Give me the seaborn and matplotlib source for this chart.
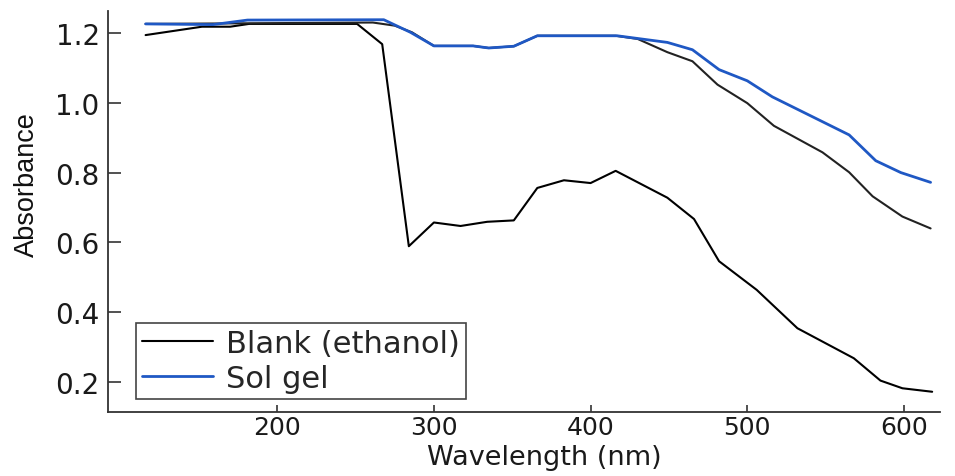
import matplotlib
matplotlib.use("Agg")
import matplotlib.pyplot as plt
import seaborn as sns
import pandas as pd

# ---- data ----
blank_nm = [116, 152, 170, 182, 251, 267, 284, 300, 317, 334, 351, 366, 383, 400,
            416, 449, 466, 482, 506, 532, 568, 585, 599, 618]
blank_abs = [1.194, 1.218, 1.218, 1.226, 1.226, 1.168, 0.589, 0.657, 0.647, 0.659,
             0.663, 0.756, 0.778, 0.770, 0.805, 0.728, 0.667, 0.546, 0.464, 0.354,
             0.268, 0.204, 0.182, 0.172]

blank2_nm = [116, 261, 275, 286, 300, 325, 335, 351, 366, 416, 430, 449, 465, 481,
             500, 517, 548, 565, 580, 599, 617]
blank2_abs = [1.226, 1.230, 1.221, 1.202, 1.163, 1.163, 1.157, 1.162, 1.192, 1.192,
              1.183, 1.145, 1.119, 1.052, 0.999, 0.934, 0.858, 0.801, 0.732, 0.674,
              0.640]

solgel_nm = [116, 159, 181, 268, 285, 300, 325, 335, 351, 366, 417, 449, 465, 482,
             500, 516, 565, 582, 598, 617]
solgel_abs = [1.226, 1.224, 1.237, 1.238, 1.202, 1.163, 1.163, 1.157, 1.162, 1.192,
              1.192, 1.173, 1.152, 1.095, 1.063, 1.017, 0.908, 0.834, 0.800, 0.772]

x_ticks = [200, 300, 400, 500, 600]
y_ticks = [0.2, 0.4, 0.6, 0.8, 1.0, 1.2]
labels = ["Blank (ethanol)", "Sol gel"]

BLUE = "#1f58c4"

sns.set_theme(style="ticks")
plt.rcParams["font.family"] = ["DejaVu Sans"]

fig = plt.figure(figsize=(9.55, 4.77), dpi=100)
ax = fig.add_axes([108 / 955, 64 / 477, 832 / 955, 401 / 477])

df_b = pd.DataFrame({"nm": blank_nm, "abs": blank_abs})
df_b2 = pd.DataFrame({"nm": blank2_nm, "abs": blank2_abs})
df_s = pd.DataFrame({"nm": solgel_nm, "abs": solgel_abs})

sns.lineplot(data=df_b, x="nm", y="abs", ax=ax, color="black", lw=1.5,
             sort=False, estimator=None, label=labels[0])
sns.lineplot(data=df_b2, x="nm", y="abs", ax=ax, color="#222222", lw=1.5,
             sort=False, estimator=None, legend=False)
sns.lineplot(data=df_s, x="nm", y="abs", ax=ax, color=BLUE, lw=2.0,
             sort=False, estimator=None, label=labels[1])

ax.set_xlim(92, 623)
ax.set_ylim(0.114, 1.263)
ax.set_xticks(x_ticks)
ax.set_yticks(y_ticks)
ax.set_yticklabels([f"{v:.1f}" for v in y_ticks])

for s in ["top", "right"]:
    ax.spines[s].set_visible(False)
for s in ["left", "bottom"]:
    ax.spines[s].set_color("#333333")
    ax.spines[s].set_linewidth(1.3)

ax.tick_params(axis="y", direction="in", length=9, width=1.2, color="#333333",
               labelsize=20, pad=6, labelcolor="#1a1a1a")
ax.tick_params(axis="x", direction="in", length=5, width=1.2, color="#333333",
               labelsize=18, pad=2, labelcolor="#1a1a1a")

ax.set_xlabel("Wavelength (nm)", fontsize=19.5, color="#1a1a1a")
ax.xaxis.set_label_coords(0.525, -0.081)

ax.set_ylabel("Absorbance", fontsize=19.5, family=["Liberation Sans", "DejaVu Sans"],
              color="#111111")
ax.yaxis.set_label_coords(-0.082, 0.57)

leg = ax.legend(loc="lower left", bbox_to_anchor=(0.034, 0.032), fontsize=22,
                frameon=True, fancybox=False, edgecolor="#444444", framealpha=1,
                borderpad=0.2, labelspacing=0.2, handlelength=2.3,
                handletextpad=0.45, borderaxespad=0)
leg.get_frame().set_linewidth(1.2)

fig.savefig("out.png", dpi=100)
